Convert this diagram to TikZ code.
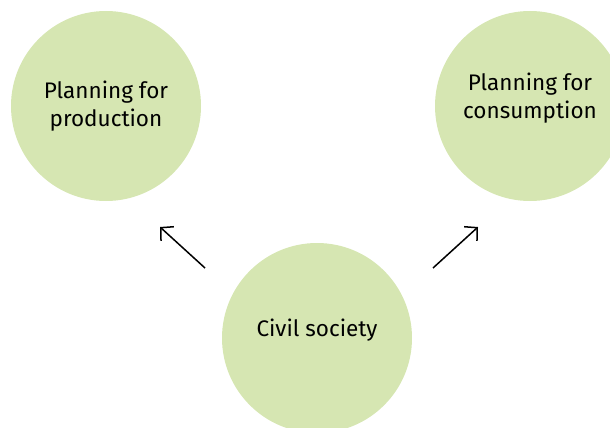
\documentclass[tikz,border=0pt]{standalone}
\usepackage{fontspec}
\setmainfont{Fira Sans}
\usetikzlibrary{arrows.meta}
\definecolor{leaf}{RGB}{214,230,178}
\begin{document}
\begin{tikzpicture}[x=1pt,y=-1pt,
  label/.style={align=center,font=\fontsize{22.5}{28}\selectfont},
  bubble/.style={circle,fill=leaf,minimum size=190pt,inner sep=0pt,label},
  push/.style={line width=1.5pt,-{Straight Barb[length=9pt,width=19pt,line width=1.5pt]}}]
\useasboundingbox (0,0) rectangle (610,428);
\node[bubble] (prod) at (106,106) {Planning for\\production};
\node[bubble] (cons) at (530,106) {};
\node[label] (constext) at (530,98) {Planning for\\consumption};
\node[bubble] (civ) at (317,338) {};
\node[label] (civtext) at (317,330) {Civil society};
\coordinate (a1) at (205,268);
\coordinate (a1t) at (160,227);
\coordinate (a2) at (433,268);
\coordinate (a2t) at (478,227);
\draw[push] (a1) -- (a1t);
\draw[push] (a2) -- (a2t);
\end{tikzpicture}
\end{document}
